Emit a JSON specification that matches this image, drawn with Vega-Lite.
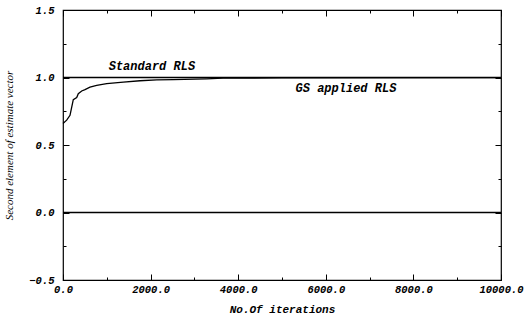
{
  "$schema": "https://vega.github.io/schema/vega-lite/v6.json",
  "autosize": "none",
  "width": 438,
  "height": 270,
  "padding": {"left": 63, "top": 10, "right": 24, "bottom": 38},
  "background": "white",
  "config": {
    "view": {"stroke": "black", "strokeWidth": 1.2},
    "axis": {
      "domain": false,
      "grid": false,
      "tickColor": "black",
      "labelColor": "black",
      "titleColor": "black",
      "labelFont": "Liberation Mono",
      "labelFontStyle": "italic",
      "labelFontWeight": "bold",
      "labelFontSize": 10.5
    }
  },
  "datasets": {
    "series": [
      {"series": "GS applied RLS", "iter": 0, "value": 0.66},
      {"series": "GS applied RLS", "iter": 84, "value": 0.684},
      {"series": "GS applied RLS", "iter": 160, "value": 0.72},
      {"series": "GS applied RLS", "iter": 199, "value": 0.78},
      {"series": "GS applied RLS", "iter": 235, "value": 0.836},
      {"series": "GS applied RLS", "iter": 313, "value": 0.851},
      {"series": "GS applied RLS", "iter": 349, "value": 0.88},
      {"series": "GS applied RLS", "iter": 427, "value": 0.9},
      {"series": "GS applied RLS", "iter": 502, "value": 0.91},
      {"series": "GS applied RLS", "iter": 616, "value": 0.929},
      {"series": "GS applied RLS", "iter": 769, "value": 0.941},
      {"series": "GS applied RLS", "iter": 998, "value": 0.954},
      {"series": "GS applied RLS", "iter": 1377, "value": 0.965},
      {"series": "GS applied RLS", "iter": 1758, "value": 0.976},
      {"series": "GS applied RLS", "iter": 2139, "value": 0.983},
      {"series": "GS applied RLS", "iter": 2518, "value": 0.985},
      {"series": "GS applied RLS", "iter": 3281, "value": 0.99},
      {"series": "GS applied RLS", "iter": 3653, "value": 0.995},
      {"series": "GS applied RLS", "iter": 5000, "value": 0.997},
      {"series": "GS applied RLS", "iter": 10000, "value": 0.999},
      {"series": "Standard RLS", "iter": 0, "value": 1.0},
      {"series": "Standard RLS", "iter": 10000, "value": 1.0},
      {"series": "Zero", "iter": 0, "value": 0.0},
      {"series": "Zero", "iter": 10000, "value": 0.0}
    ],
    "labels": [
      {"label": "Standard RLS", "iter": 2030, "value": 1.088},
      {"label": "GS applied RLS", "iter": 6460, "value": 0.92}
    ]
  },
  "layer": [
    {
      "data": {"name": "series"},
      "mark": {"type": "line", "color": "black", "strokeWidth": 1.3},
      "encoding": {
        "x": {
          "field": "iter", "type": "quantitative",
          "scale": {"domain": [0, 10000], "nice": false},
          "axis": {
            "values": [0,1000,2000,3000,4000,5000,6000,7000,8000,9000,10000],
            "labelExpr": "datum.value % 2000 == 0 ? format(datum.value, '.1f') : ''",
            "tickSize": {"condition": {"test": "datum.value % 2000 == 0", "value": -6}, "value": -3},
            "labelPadding": 10,
            "labelFlush": false,
            "labelOverlap": false,
            "title": "No.Of iterations",
            "titleFont": "Liberation Mono",
            "titleFontStyle": "italic",
            "titleFontWeight": "bold",
            "titleFontSize": 11,
            "titlePadding": 6
          }
        },
        "y": {
          "field": "value", "type": "quantitative",
          "scale": {"domain": [-0.5, 1.5], "nice": false},
          "axis": {
            "values": [-0.5,-0.25,0,0.25,0.5,0.75,1.0,1.25,1.5],
            "labelExpr": "datum.value % 0.5 == 0 ? format(datum.value, '.1f') : ''",
            "tickSize": {"condition": {"test": "datum.value % 0.5 == 0", "value": -6}, "value": -3},
            "labelPadding": 15,
            "labelFlush": false,
            "labelOverlap": false,
            "title": "Second element of estimate vector",
            "titleFont": "Liberation Serif",
            "titleFontStyle": "italic",
            "titleFontWeight": "normal",
            "titleFontSize": 11,
            "titlePadding": 14
          }
        },
        "detail": {"field": "series"}
      }
    },
    {
      "data": {"name": "labels"},
      "mark": {"type": "text", "font": "Liberation Mono", "fontStyle": "italic", "fontWeight": "bold", "fontSize": 12, "color": "black"},
      "encoding": {
        "x": {
          "field": "iter", "type": "quantitative",
          "axis": {
            "orient": "top",
            "values": [0,1000,2000,3000,4000,5000,6000,7000,8000,9000,10000],
            "labels": false,
            "title": null,
            "tickSize": {"condition": {"test": "datum.value % 2000 == 0", "value": -6}, "value": -3}
          }
        },
        "y": {
          "field": "value", "type": "quantitative",
          "axis": {
            "orient": "right",
            "values": [-0.5,-0.25,0,0.25,0.5,0.75,1.0,1.25,1.5],
            "labels": false,
            "title": null,
            "tickSize": {"condition": {"test": "datum.value % 0.5 == 0", "value": -6}, "value": -3}
          }
        },
        "text": {"field": "label"}
      }
    }
  ],
  "resolve": {"axis": {"x": "independent", "y": "independent"}}
}
